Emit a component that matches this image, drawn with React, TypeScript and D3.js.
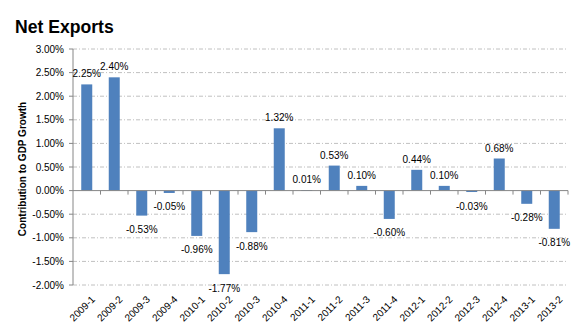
import React from "react";
import * as d3 from "d3";

const categories = ["2009-1","2009-2","2009-3","2009-4","2010-1","2010-2","2010-3","2010-4","2011-1","2011-2","2011-3","2011-4","2012-1","2012-2","2012-3","2012-4","2013-1","2013-2"];
const values = [2.25, 2.40, -0.53, -0.05, -0.96, -1.77, -0.88, 1.32, 0.01, 0.53, 0.10, -0.60, 0.44, 0.10, -0.03, 0.68, -0.28, -0.81];
const yTicks = [3, 2.5, 2, 1.5, 1, 0.5, 0, -0.5, -1, -1.5, -2];
const title = "Net Exports";
const yTitle = "Contribution to GDP Growth";

const W = 580, H = 334;
const left = 73, right = 568, top = 49, bottom = 285;
const font = "'Liberation Sans', Arial, sans-serif";

export default function App() {
  const x = d3.scaleBand().domain(categories).range([left, right]).paddingInner(0.6).paddingOuter(0.3);
  const xb = d3.scaleBand().domain(categories).range([left, right]);
  const y = d3.scaleLinear().domain([-2, 3]).range([bottom, top]);
  const fmt = (v: number) => v.toFixed(2) + "%";
  return (
    <svg width={W} height={H} style={{ position: "absolute", left: 0, top: 0, background: "#fff" }} fontFamily={font}>
      <text x={15} y={33} fontSize={17.6} fontWeight="bold" fill="#000">{title}</text>
      {yTicks.map((t) => (
        <g key={t}>
          {t !== 0 && (
            <line x1={left} x2={right - 2} y1={y(t)} y2={y(t)} stroke="#c0c0c0" strokeWidth={1} strokeDasharray="4,2,1,2" />
          )}
          <line x1={left - 4} x2={left} y1={y(t)} y2={y(t)} stroke="#868686" />
          <text x={left - 9} y={y(t)} dy="0.35em" textAnchor="end" fontSize={10} fill="#000">{fmt(t)}</text>
        </g>
      ))}
      <line x1={left} x2={left} y1={top} y2={bottom} stroke="#868686" />
      {values.map((v, i) => {
        const c = categories[i];
        const y0 = y(0), y1 = y(v);
        return (
          <rect key={c} x={x(c)!} width={x.bandwidth()} y={Math.min(y0, y1)} height={Math.max(Math.abs(y1 - y0), 0.8)} fill="#4f81bd" />
        );
      })}
      <line x1={left} x2={right} y1={y(0)} y2={y(0)} stroke="#868686" />
      {categories.map((c) => (
        <line key={c} x1={xb(c)! + xb.bandwidth()} x2={xb(c)! + xb.bandwidth()} y1={y(0)} y2={y(0) + 4} stroke="#868686" />
      ))}
      {values.map((v, i) => {
        const c = categories[i];
        const cx = x(c)! + x.bandwidth() / 2;
        const ly = v >= 0 ? y(v) - 10.5 : y(v) + 14;
        return (
          <text key={c} x={cx} y={ly} dy="0.35em" textAnchor="middle" fontSize={10} fill="#000">{fmt(v)}</text>
        );
      })}
      {categories.map((c) => {
        const cx = xb(c)! + xb.bandwidth() / 2 + 9;
        const ly = 300;
        return (
          <text key={c} x={cx} y={ly} textAnchor="end" fontSize={10} fill="#000" transform={`rotate(-45 ${cx} ${ly})`}>{c}</text>
        );
      })}
      <text x={0} y={0} transform={`translate(22 169) rotate(-90)`} textAnchor="middle" fontSize={10} fontWeight="bold" dy="0.35em" fill="#000">{yTitle}</text>
    </svg>
  );
}
